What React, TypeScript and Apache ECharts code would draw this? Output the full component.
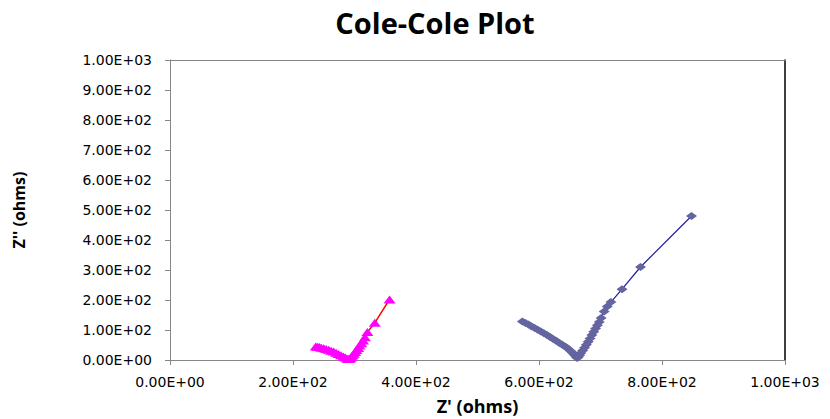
import React, { useEffect, useRef } from "react";
import * as echarts from "echarts";

const titleText = "Cole-Cole Plot";
const xName = "Z' (ohms)";
const yName = "Z'' (ohms)";

// Pink series (triangles): Z' and Z''
const pinkX = [237, 240, 243, 246, 250, 254, 258, 262, 266, 270, 274, 278, 282, 285, 288, 290, 292, 293, 295, 297, 299, 301, 303, 306, 308, 311, 314, 317, 321, 333, 357];
const pinkY = [45, 44, 43, 41, 39, 37, 34, 31, 28, 24, 20, 16, 12, 8, 5, 3, 4, 7, 11, 16, 21, 27, 33, 40, 48, 56, 65, 76, 93, 124, 202];

// Blue series (diamonds): Z' and Z''
const blueX = [573, 578, 583, 588, 593, 598, 603, 608, 613, 618, 623, 628, 633, 638, 643, 647, 651, 654, 657, 660, 662, 664, 666, 668, 671, 674, 677, 680, 683, 686, 689, 692, 695, 698, 701, 706, 711, 717, 735, 765, 848];
const blueY = [128, 123, 118, 112, 107, 101, 95, 89, 83, 77, 70, 64, 57, 51, 44, 38, 31, 25, 18, 11, 7, 10, 16, 23, 32, 41, 51, 61, 72, 83, 94, 105, 116, 127, 140, 162, 178, 193, 236, 310, 480];

const fmt = (v: number) => {
  if (v === 0) return "0.00E+00";
  const e = Math.floor(Math.log10(Math.abs(v)));
  const m = v / Math.pow(10, e);
  const es = (e < 0 ? "-" : "+") + String(Math.abs(e)).padStart(2, "0");
  return m.toFixed(2) + "E" + es;
};

export default function App() {
  const ref = useRef<HTMLDivElement>(null);
  useEffect(() => {
    if (!ref.current) return;
    const chart = echarts.init(ref.current, undefined, { renderer: "svg" });
    const labelStyle = { fontFamily: "DejaVu Sans", fontSize: 14, color: "#000" };
    chart.setOption({
      animation: false,
      backgroundColor: "#fff",
      title: {
        text: titleText,
        left: 430,
        textAlign: "center",
        top: 3,
        textStyle: { fontFamily: "Open Sans", fontWeight: "bold", fontSize: 29, color: "#000" },
      },
      grid: { left: 170, right: 45, top: 60, bottom: 59, containLabel: false, outerBoundsMode: "none" },
      xAxis: [
        {
          type: "value",
          min: 0,
          max: 1000,
          interval: 200,
          name: xName,
          nameLocation: "middle",
          nameGap: 37,
          nameTextStyle: { fontFamily: "Open Sans", fontWeight: "bold", fontSize: 18, color: "#000" },
          axisLine: { show: true, lineStyle: { color: "#868686", width: 1 } },
          axisTick: { show: true, length: 5, lineStyle: { color: "#868686" } },
          axisLabel: { ...labelStyle, margin: 15, formatter: (v: number) => fmt(v) },
          splitLine: { show: false },
        },
        {
          type: "value",
          position: "top",
          min: 0,
          max: 1000,
          axisLine: { show: true, onZero: false, lineStyle: { color: "#868686", width: 1 } },
          axisTick: { show: false },
          axisLabel: { show: false },
          splitLine: { show: false },
        },
      ],
      yAxis: [
        {
          type: "value",
          min: 0,
          max: 1000,
          interval: 100,
          name: yName,
          nameLocation: "middle",
          nameGap: 143,
          nameRotate: 90,
          nameTextStyle: { fontFamily: "Open Sans", fontWeight: "bold", fontSize: 16, color: "#000" },
          axisLine: { show: true, lineStyle: { color: "#868686", width: 1 } },
          axisTick: { show: true, length: 5, lineStyle: { color: "#868686" } },
          axisLabel: { ...labelStyle, margin: 18, formatter: (v: number) => fmt(v) },
          splitLine: { show: false },
        },
        {
          type: "value",
          position: "right",
          min: 0,
          max: 1000,
          axisLine: { show: true, onZero: false, lineStyle: { color: "#000", width: 1.5 } },
          axisTick: { show: false },
          axisLabel: { show: false },
          splitLine: { show: false },
        },
      ],
      series: [
        {
          type: "line",
          name: "pink",
          data: pinkX.map((x, i) => [x, pinkY[i]]),
          symbol: "triangle",
          symbolSize: [12, 8],
          lineStyle: { color: "#FF0000", width: 1.5 },
          itemStyle: { color: "#FF00FF" },
        },
        {
          type: "line",
          name: "blue",
          data: blueX.map((x, i) => [x, blueY[i]]),
          symbol: "diamond",
          symbolSize: [11, 8],
          lineStyle: { color: "#1F1F99", width: 1.2 },
          itemStyle: { color: "#6464A0" },
        },
      ],
    });
    return () => chart.dispose();
  }, []);
  return <div ref={ref} style={{ width: 830, height: 419, position: "absolute", left: 0, top: 0 }} />;
}
